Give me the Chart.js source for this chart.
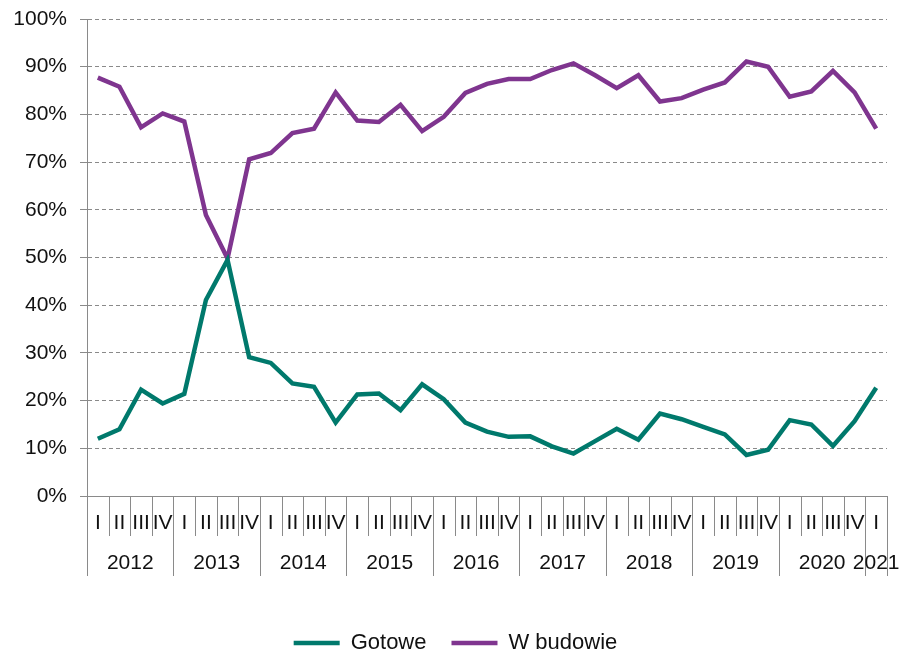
<!DOCTYPE html>
<html><head><meta charset="utf-8">
<script src="https://cdn.jsdelivr.net/npm/chart.js@4/dist/chart.umd.min.js"></script>
<style>html,body{margin:0;padding:0;background:#fff}</style>
</head><body>
<canvas id="c" width="902" height="652"></canvas>
<script>
const quarters = ['I','II','III','IV','I','II','III','IV','I','II','III','IV','I','II','III','IV','I','II','III','IV','I','II','III','IV','I','II','III','IV','I','II','III','IV','I','II','III','IV','I'];
const years = ['2012','2013','2014','2015','2016','2017','2018','2019','2020','2021'];
const yearQuarterCount = [4,4,4,4,4,4,4,4,4,1];
const gotowe = [12.0,14.0,22.3,19.4,21.4,41.1,49.5,29.1,27.9,23.6,22.9,15.4,21.3,21.5,18.0,23.4,20.3,15.4,13.5,12.4,12.5,10.4,8.9,11.5,14.1,11.8,17.3,16.1,14.5,12.9,8.6,9.7,15.9,15.0,10.5,15.7,22.7];
const wBudowie = [87.7,85.8,77.3,80.2,78.5,58.9,49.8,70.6,71.9,76.1,77.0,84.6,78.7,78.4,82.0,76.5,79.5,84.5,86.4,87.4,87.4,89.3,90.7,88.2,85.5,88.2,82.7,83.4,85.2,86.7,91.1,90.0,83.7,84.8,89.1,84.6,77.0];
const yTicks = [0,10,20,30,40,50,60,70,80,90,100];

const FONT = 'Liberation Sans, Arial, sans-serif';
const AXIS = '#8a8a8a';
const TEXT = '#111111';

const legendShift = {
  id: 'legendShift',
  beforeLayout(chart) {
    const lg = chart.legend;
    if (lg && !lg.__patched) {
      const f = lg.fit;
      lg.fit = function () { f.call(this); this.height -= 12; };
      lg.__patched = true;
    }
  },
  afterLayout(chart) {
    const lg = chart.legend;
    if (lg) { lg.left += 12; lg.right += 12; }
  }
};

const multiAxis = {
  id: 'multiAxis',
  afterDraw(chart) {
    const xs = chart.scales.x;
    const ctx = chart.ctx;
    const top = chart.chartArea.bottom;
    const w = xs.getPixelForValue(1) - xs.getPixelForValue(0);
    ctx.save();
    ctx.strokeStyle = AXIS;
    ctx.lineWidth = 1;
    let starts = [];
    let acc = 0;
    yearQuarterCount.forEach(n => { starts.push(acc); acc += n; });
    for (let i = 0; i <= quarters.length; i++) {
      let x;
      if (i === 0) x = chart.chartArea.left;
      else if (i === quarters.length) x = chart.chartArea.right;
      else x = xs.getPixelForValue(i) - w / 2;
      const isYear = starts.includes(i) || i === quarters.length;
      const len = isYear ? 80 : 40;
      const px = Math.round(x) + 0.5;
      ctx.beginPath();
      ctx.moveTo(px, top);
      ctx.lineTo(px, top + len);
      ctx.stroke();
    }
    ctx.fillStyle = TEXT;
    ctx.font = '21px ' + FONT;
    ctx.textAlign = 'center';
    ctx.textBaseline = 'alphabetic';
    years.forEach((y, k) => {
      const a = starts[k], b = starts[k] + yearQuarterCount[k] - 1;
      const cx = (xs.getPixelForValue(a) + xs.getPixelForValue(b)) / 2;
      ctx.fillText(y, cx, top + 73);
    });
    ctx.restore();
  }
};

new Chart(document.getElementById('c'), {
  type: 'line',
  data: {
    labels: quarters,
    datasets: [
      { label: 'Gotowe', data: gotowe, borderColor: '#00796c', backgroundColor: '#00796c', borderWidth: 4.5, pointRadius: 0, tension: 0 },
      { label: 'W budowie', data: wBudowie, borderColor: '#7f358f', backgroundColor: '#7f358f', borderWidth: 4.5, pointRadius: 0, tension: 0 }
    ]
  },
  options: {
    responsive: false,
    animation: false,
    devicePixelRatio: 1,
    layout: { padding: { left: 0, right: 15, top: 19, bottom: 0 } },
    plugins: {
      tooltip: { enabled: false },
      legend: {
        position: 'bottom',
        labels: {
          usePointStyle: true,
          pointStyle: 'line',
          pointStyleWidth: 46,
          padding: 25,
          color: TEXT,
          font: { family: FONT, size: 22 }
        }
      }
    },
    scales: {
      x: {
        offset: true,
        grid: { display: false, drawTicks: false },
        border: { display: true, color: AXIS, width: 1 },
        ticks: { autoSkip: false, maxRotation: 0, minRotation: 0, padding: 15, color: TEXT, font: { family: FONT, size: 21 } },
        afterFit(s) { s.height = 111; }
      },
      y: {
        min: 0, max: 100,
        afterBuildTicks(s) { s.ticks = yTicks.map(v => ({ value: v })); },
        grid: { color: AXIS, lineWidth: 1, drawTicks: true, tickLength: 7, tickColor: AXIS, tickBorderDash: [], tickWidth: 1 },
        border: { display: true, color: AXIS, width: 1, dash: [4, 3] },
        ticks: { padding: 13, color: TEXT, font: { family: FONT, size: 21, lineHeight: 0.5 }, callback: v => v + '%' },
        afterFit(s) { s.width = 87; }
      }
    }
  },
  plugins: [legendShift, multiAxis]
});
</script>
</body></html>
